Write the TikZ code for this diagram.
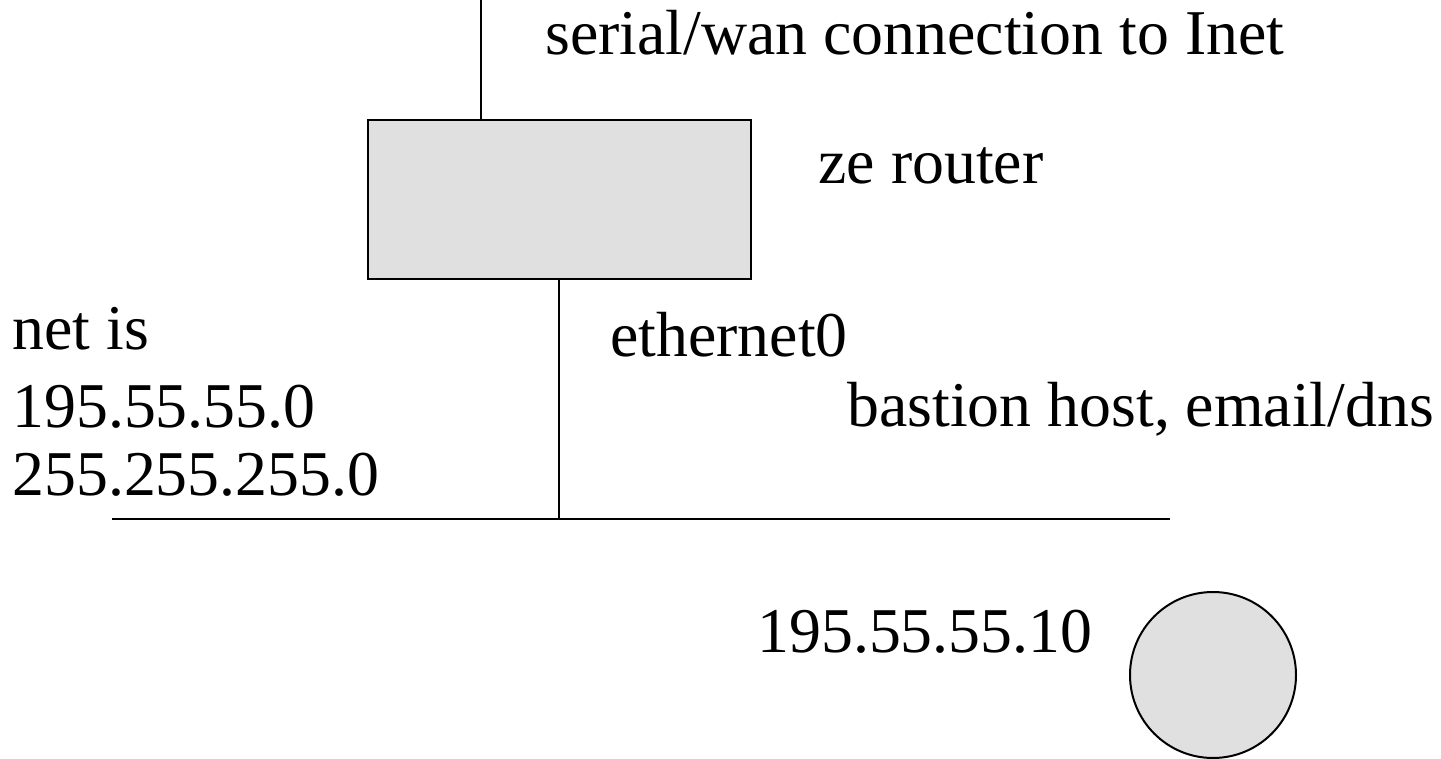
\documentclass[tikz,border=0pt]{standalone}
\usepackage{fontspec}
\setmainfont{Liberation Serif}
\begin{document}
\begin{tikzpicture}[x=0.5pt,y=-0.5pt,
  lbl/.style={anchor=base west,inner sep=0pt,font=\fontsize{31.9}{38}\selectfont},
  gray box/.style={draw,line width=1pt,fill=black!12,minimum width=191.5pt,minimum height=79.5pt,inner sep=0pt},
  host/.style={draw,line width=1pt,fill=black!12,circle,minimum size=83pt,inner sep=0pt},
  wire/.style={line width=1pt}]
\useasboundingbox (0,0) rectangle (1441,759);
\node[gray box] (router) at (559.5,199.5) {};
\node[host] (bastion) at (1213,675) {};
\coordinate (wan) at (481,0);
\coordinate (eth) at (559,519);
\coordinate (busL) at (112,519);
\coordinate (busR) at (1170,519);
\draw[wire] (wan) -- (wan |- router.north);
\draw[wire] (router.south -| eth) -- (eth);
\draw[wire] (busL) -- (busR);
\node[lbl] (t1) at (545,55) {serial/wan connection to Inet};
\node[lbl] (t2) at (818,184) {ze router};
\node[lbl] (t3) at (12,350) {net is};
\node[lbl] (t4) at (610,357) {ethernet0};
\node[lbl] (t5) at (12,427) {195.55.55.0};
\node[lbl] (t6) at (847,426) {bastion host, email/dns};
\node[lbl] (t7) at (12,495) {255.255.255.0};
\node[lbl] (t8) at (757,652) {195.55.55.10};
\end{tikzpicture}
\end{document}
